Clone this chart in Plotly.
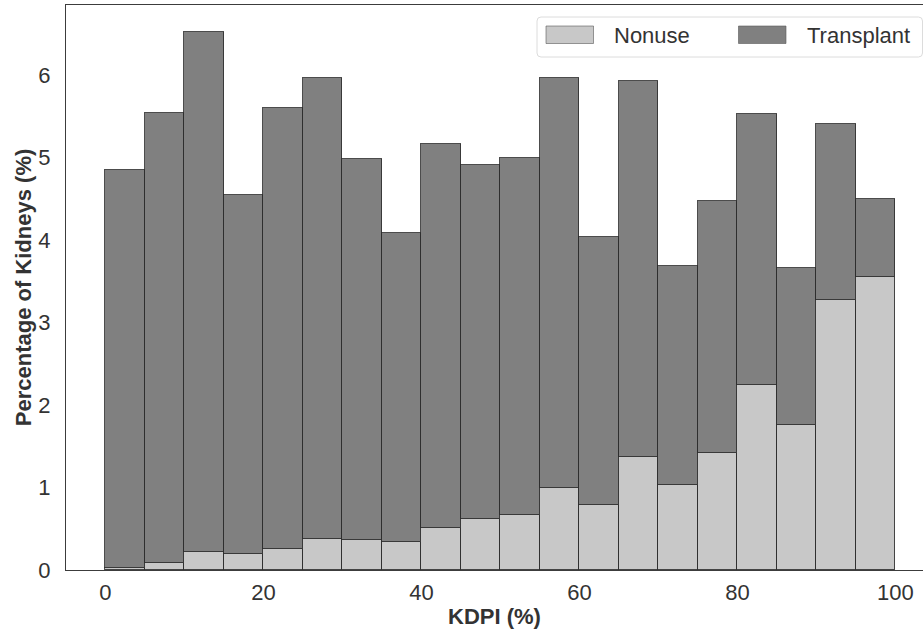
import plotly.graph_objects as go

# KDPI bins (left edges, width 5)
bin_left = [0, 5, 10, 15, 20, 25, 30, 35, 40, 45, 50, 55, 60, 65, 70, 75, 80, 85, 90, 95]
bin_width = 5

# Percentage of kidneys per bin
nonuse = [0.03, 0.085, 0.22, 0.20, 0.26, 0.38, 0.364, 0.34, 0.51, 0.62,
          0.67, 0.99, 0.79, 1.37, 1.03, 1.42, 2.24, 1.76, 3.27, 3.555]
transplant = [4.82, 5.455, 6.30, 4.345, 5.34, 5.59, 4.616, 3.75, 4.66, 4.29,
              4.33, 4.97, 3.25, 4.56, 2.65, 3.05, 3.29, 1.90, 2.14, 0.945]

x_ticks = [0, 20, 40, 60, 80, 100]
y_ticks = [0, 1, 2, 3, 4, 5, 6]

NONUSE_COLOR = "#c8c8c8"
TRANSPLANT_COLOR = "#808080"
EDGE = "rgba(45,45,45,0.85)"
TEXT = "#333333"
FONT = "Liberation Sans, Arial, sans-serif"

centers = [b + bin_width / 2 for b in bin_left]

fig = go.Figure()
fig.add_trace(go.Bar(x=centers, y=nonuse, width=bin_width, name="Nonuse",
                     marker=dict(color=NONUSE_COLOR, line=dict(color=EDGE, width=1))))
fig.add_trace(go.Bar(x=centers, y=transplant, width=bin_width, name="Transplant",
                     marker=dict(color=TRANSPLANT_COLOR, line=dict(color=EDGE, width=1))))

W, H = 923, 634
ML, MR, MT, MB = 66, 0, 5, 64
PW, PH = W - ML - MR, H - MT - MB


def px(xp):
    return (xp - ML) / PW


def py(yp):
    return (H - MB - yp) / PH


# Custom legend (box, swatches, labels)
x0, x1, y0, y1 = px(537), px(922.5), py(57), py(17)
rx, ry = 4 / PW, 4 / PH
path = (f"M {x0+rx},{y0} L {x1-rx},{y0} Q {x1},{y0} {x1},{y0+ry} "
        f"L {x1},{y1-ry} Q {x1},{y1} {x1-rx},{y1} L {x0+rx},{y1} "
        f"Q {x0},{y1} {x0},{y1-ry} L {x0},{y0+ry} Q {x0},{y0} {x0+rx},{y0} Z")
shapes = [dict(type="path", path=path, xref="paper", yref="paper",
               line=dict(color="#dcdcdc", width=1), fillcolor="rgba(255,255,255,0.85)", layer="above")]
annotations = []
for sx, tx, color, label in [(546, 612, NONUSE_COLOR, "Nonuse"),
                             (738.5, 805, TRANSPLANT_COLOR, "Transplant")]:
    shapes.append(dict(type="rect", xref="paper", yref="paper",
                       x0=px(sx), x1=px(sx + 47.5), y0=py(43.5), y1=py(26),
                       fillcolor=color, line=dict(color="rgba(90,90,90,0.6)", width=1), layer="above"))
    annotations.append(dict(x=px(tx), y=py(35.5), xref="paper", yref="paper", text=label,
                            showarrow=False, xanchor="left", yanchor="middle",
                            font=dict(size=22, color=TEXT, family=FONT)))

fig.update_layout(
    width=W, height=H,
    margin=dict(l=ML, r=MR, t=MT, b=MB, pad=0),
    paper_bgcolor="white", plot_bgcolor="white",
    barmode="stack", bargap=0, showlegend=False,
    font=dict(family=FONT, color=TEXT, size=22),
    shapes=shapes, annotations=annotations,
    xaxis=dict(range=[-5, 103.5], tickvals=x_ticks, ticks="", showgrid=False, zeroline=False,
               showline=True, linecolor="#3c3c3c", linewidth=1.3, mirror=True,
               tickfont=dict(size=22, color=TEXT), ticklabelstandoff=2,
               title=dict(text="<b>KDPI (%)</b>", font=dict(size=22, color=TEXT), standoff=5),
               automargin=False),
    yaxis=dict(range=[0, 6.85], tickvals=y_ticks, ticks="", showgrid=False, zeroline=False,
               showline=True, linecolor="#3c3c3c", linewidth=1.3,
               tickfont=dict(size=22, color=TEXT), ticklabelstandoff=10,
               title=dict(text="<b>Percentage of Kidneys (%)</b>", font=dict(size=22, color=TEXT), standoff=0),
               automargin=False),
)

fig.write_html("out.html", config={"displayModeBar": False},
               post_script="document.body.style.margin='0';document.body.style.overflow='hidden';")
